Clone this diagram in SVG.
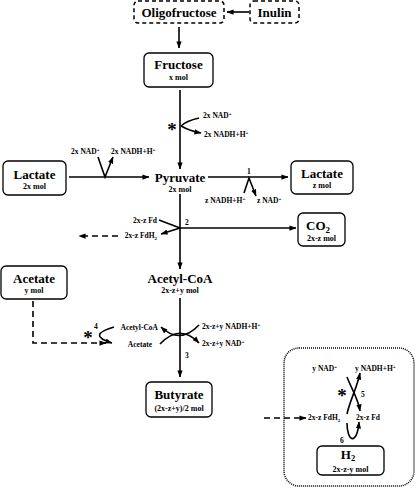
<svg xmlns="http://www.w3.org/2000/svg" width="416" height="488" viewBox="0 0 416 488">
<defs>
<marker id="ah" viewBox="0 0 8 6" refX="7.5" refY="3" markerWidth="7" markerHeight="5.5" markerUnits="userSpaceOnUse" orient="auto">
<path d="M0,0 L8,3 L0,6 z" fill="#000"/>
</marker>
<style>
text{font-family:"Liberation Serif","Times New Roman",serif;font-weight:bold;fill:#000}
.m{font-size:13px;text-anchor:middle}
.s{font-size:8px;text-anchor:middle}
.r{font-size:7.5px}
.e{text-anchor:end}
.sup{font-size:5px}
.box{fill:#fff;stroke:#000;stroke-width:1.3}
.dbox{fill:#fff;stroke:#000;stroke-width:1.5;stroke-dasharray:4,3}
.ln{fill:none;stroke:#000;stroke-width:1.6}
.arr{marker-end:url(#ah)}
.dl{stroke-dasharray:6,4}
.ast{font-size:19px;text-anchor:middle}
</style>
</defs>

<g id="h2-region">
<rect x="284" y="348" width="130" height="138" rx="15" fill="#fff" stroke="#000" stroke-width="1.5" stroke-dasharray="1,1"/>
</g>

<g id="oligofructose">
<rect class="dbox" x="134" y="1" width="90" height="22" rx="4"/>
<text class="m" x="179" y="17">Oligofructose</text>
</g>
<g id="inulin">
<rect class="dbox" x="250" y="1" width="49" height="22" rx="4"/>
<text class="m" x="274.5" y="17">Inulin</text>
</g>
<g id="fructose">
<rect class="box" x="144" y="53" width="69" height="34" rx="5"/>
<text class="m" x="178.5" y="69">Fructose</text>
<text class="s" x="178.5" y="80">x mol</text>
</g>
<g id="pyruvate">
<text class="m" x="180" y="182">Pyruvate</text>
<text class="s" x="180" y="192">2x mol</text>
</g>
<g id="lactate-in">
<rect class="box" x="3" y="161" width="63" height="34" rx="5"/>
<text class="m" x="34.5" y="179">Lactate</text>
<text class="s" x="34.5" y="189">2x mol</text>
</g>
<g id="lactate-out">
<rect class="box" x="291" y="161" width="62" height="33" rx="5"/>
<text class="m" x="322" y="178">Lactate</text>
<text class="s" x="322" y="188">z mol</text>
</g>
<g id="co2">
<rect class="box" x="298" y="213" width="47" height="33" rx="5"/>
<text class="m" x="318" y="230">CO<tspan font-size="9" dy="3">2</tspan></text>
<text class="s" x="321.5" y="241">2x-z mol</text>
</g>
<g id="acetyl-coa">
<text class="m" x="180" y="283">Acetyl-CoA</text>
<text class="s" x="180" y="293">2x-z+y mol</text>
</g>
<g id="acetate">
<rect class="box" x="1" y="266" width="66" height="33" rx="5"/>
<text class="m" x="34" y="283">Acetate</text>
<text class="s" x="34" y="293">y mol</text>
</g>
<g id="butyrate">
<rect class="box" x="146" y="382" width="66" height="35" rx="5"/>
<text class="m" x="179" y="399">Butyrate</text>
<text class="s" x="179" y="411">(2x-z+y)/2 mol</text>
</g>
<g id="h2">
<rect class="box" x="317" y="446" width="67" height="29" rx="5"/>
<text class="m" x="348" y="459">H<tspan font-size="8.5" dy="2">2</tspan></text>
<text class="s" x="350.5" y="471.5" font-size="7.5">2x-z-y mol</text>
</g>

<g id="connectors">
<line class="ln arr" x1="249" y1="12" x2="227" y2="12"/>
<line class="ln arr" x1="179" y1="27" x2="179" y2="48"/>
<line class="ln arr" x1="180" y1="90" x2="180" y2="169"/>
<path class="ln" d="M199,118 Q186,121 181,126"/>
<path class="ln arr" d="M181,126 Q190,131 201,133"/>
<text class="ast" x="172" y="136">*</text>
<text class="r" x="203" y="118">2x NAD<tspan class="sup" dy="-3">+</tspan></text>
<text class="r" x="204" y="137">2x NADH+H<tspan class="sup" dy="-3">+</tspan></text>

<line class="ln arr" x1="69" y1="177" x2="149" y2="177"/>
<path class="ln arr" d="M98,157 L105,177 L113,157"/>
<text class="r" x="71" y="154">2x NAD<tspan class="sup" dy="-3">+</tspan></text>
<text class="r" x="111" y="154">2x NADH+H<tspan class="sup" dy="-3">+</tspan></text>

<line class="ln arr" x1="208" y1="177" x2="288" y2="177"/>
<path class="ln arr" d="M244,193 L249,178 L256,196"/>
<text class="r" x="247" y="174">1</text>
<text class="r" x="205" y="203">z NADH+H<tspan class="sup" dy="-3">+</tspan></text>
<text class="r" x="257" y="203">z NAD<tspan class="sup" dy="-3">+</tspan></text>

<line class="ln arr" x1="180" y1="194" x2="180" y2="269"/>
<line class="ln" x1="159" y1="220" x2="180" y2="228"/>
<line class="ln arr" x1="180" y1="228" x2="161" y2="234"/>
<line class="ln arr" x1="180" y1="228" x2="296" y2="228"/>
<text class="r e" x="157" y="223">2x-z Fd</text>
<text class="r e" x="157" y="238">2x-z FdH<tspan class="sup" dy="2">2</tspan></text>
<line class="ln arr dl" x1="118" y1="236" x2="79" y2="236"/>
<text class="r" x="185" y="225">2</text>

<line class="ln arr" x1="180" y1="298" x2="180" y2="377"/>
<path class="ln arr" d="M199,325 Q180,345 161,327"/>
<path class="ln arr" d="M160,344 Q180,323 199,343"/>
<text class="r e" x="158" y="330">Acetyl-CoA</text>
<text class="r e" x="152" y="347">Acetate</text>
<text class="r" x="202" y="329">2x-z+y NADH+H<tspan class="sup" dy="-3">+</tspan></text>
<text class="r" x="202" y="346">2x-z+y NAD<tspan class="sup" dy="-3">+</tspan></text>
<text class="r" x="185" y="358">3</text>

<path class="ln arr" d="M114,327 Q86,335 112,343"/>
<text class="r" x="94" y="329">4</text>
<text class="ast" x="88" y="344">*</text>
<path class="ln arr dl" d="M33,301 L33,343 L106,343"/>

<path class="ln arr" d="M347,377 C352,390 358,398 360,411"/>
<path class="ln arr" d="M347,414 C350,400 357,388 360,373"/>
<text class="r e" x="337" y="371">y NAD<tspan class="sup" dy="-3">+</tspan></text>
<text class="r" x="355" y="371">y NADH+H<tspan class="sup" dy="-3">+</tspan></text>
<text class="ast" x="342" y="402">*</text>
<text class="r" x="361" y="397">5</text>
<line class="ln arr dl" x1="264" y1="418" x2="306" y2="418"/>
<text class="r" x="308" y="420">2x-z FdH<tspan class="sup" dy="2">2</tspan></text>
<text class="r" x="356" y="420">2x-z Fd</text>
<path class="ln arr" d="M347,423 C347,442 357,446 359,422"/>
<text class="r" x="340" y="443">6</text>
</g>
</svg>
